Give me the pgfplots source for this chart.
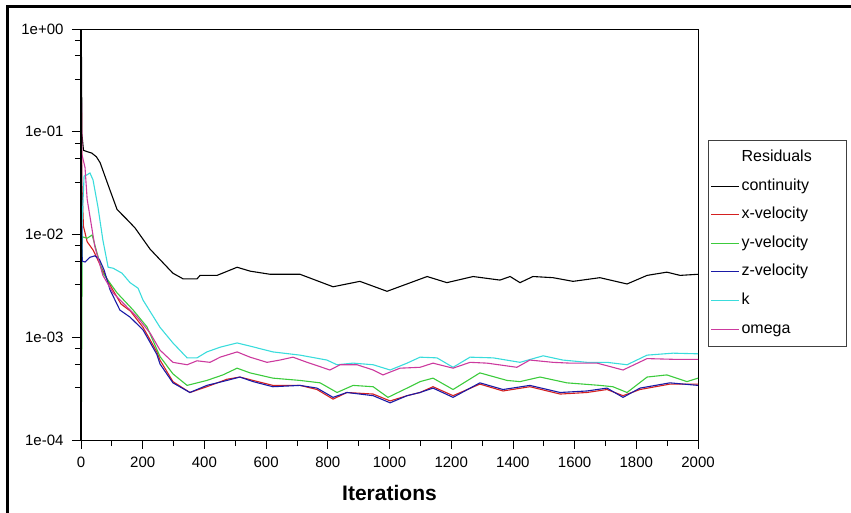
\documentclass[border=0pt]{standalone}
\usepackage{fontspec}
\setmainfont{Liberation Sans}
\usepackage{pgfplots}
\pgfplotsset{compat=1.18}
\usepackage{xcolor}
\definecolor{xvel}{HTML}{D42020}
\definecolor{yvel}{HTML}{3CCB3C}
\definecolor{zvel}{HTML}{1A1AA6}
\definecolor{kcol}{HTML}{3ADCDC}
\definecolor{omcol}{HTML}{CC3A9E}

\begin{document}
\begin{tikzpicture}
  \useasboundingbox (0pt,0pt) rectangle (851pt,513pt);
  \draw[line width=3pt] (7pt,0pt) -- (7pt,506pt) -- (851pt,506pt);
  \begin{axis}[
      at={(81pt,73pt)}, anchor=south west,
      scale only axis, width=617pt, height=411pt,
      xmin=0, xmax=2000, ymode=log, ymin=1e-4, ymax=1,
      xtick={0,200,...,2000}, minor x tick num=1,
      ytick={1e-4,1e-3,1e-2,1e-1,1},
      yticklabels={1e-04,1e-03,1e-02,1e-01,1e+00},
      minor ytick={3.25e-4,5.5e-4,7.75e-4,3.25e-3,5.5e-3,7.75e-3,3.25e-2,5.5e-2,7.75e-2,0.325,0.55,0.775},
      tick align=outside, major tick length=9pt, minor tick length=6pt,
      tick style={black, line width=0.8pt},
      xtick pos=bottom, ytick pos=left,
      axis line style={line width=0.8pt},
      /pgf/number format/assume math mode=true,
      /pgf/number format/1000 sep={},
      ticklabel style={font=\fontsize{15}{18}\selectfont},
      yticklabel style={xshift=-5pt},
      xticklabel style={yshift=-4pt},
      xlabel={\textbf{Iterations}},
      xlabel style={font=\fontsize{21}{24}\selectfont, yshift=-11pt},
      every axis plot/.append style={line width=1.1pt},
      legend image code/.code={\draw[#1, line width=1.1pt] (0pt,0pt) -- (28pt,0pt);},
      legend style={at={(1.0162,0.7299)}, anchor=north west,
        draw=black!75, line width=0.9pt, fill=white,
        inner xsep=2pt, inner ysep=9pt, column sep=2pt, row sep=12.6pt,
        font=\fontsize{16}{18}\selectfont,
        nodes={inner sep=0pt, text height=12pt, text depth=4pt, text width=103pt, align=left}},
    ]
    \addlegendimage{empty legend}
    \addlegendentry{Residuals}
    % continuity
    \addplot[black] coordinates {(1,0.9)(3,0.095)(8,0.066)(20,0.064)(35,0.062)(50,0.057)(62,0.050)(71,0.042)(94,0.027)(117,0.0175)(149,0.0140)(175,0.0116)(201,0.0090)(224,0.0072)(256,0.0057)(298,0.0042)(331,0.0037)(376,0.0037)(386,0.0040)(441,0.0040)(506,0.0048)(548,0.0044)(613,0.0041)(710,0.0041)(817,0.0031)(904,0.0035)(992,0.0028)(1122,0.0039)(1186,0.0034)(1271,0.0039)(1358,0.0036)(1391,0.0039)(1423,0.0034)(1465,0.0039)(1530,0.0038)(1595,0.0035)(1682,0.0038)(1770,0.0033)(1835,0.0040)(1899,0.0043)(1942,0.0040)(2000,0.0041)};
    \addlegendentry{continuity}
    % x-velocity
    \addplot[xvel] coordinates {(1,0.25)(3,0.03)(8,0.012)(20,0.0085)(40,0.0070)(70,0.0045)(100,0.0030)(130,0.0021)(160,0.0018)(201,0.00125)(246,0.00072)(256,0.00060)(298,0.00037)(353,0.00029)(408,0.00033)(473,0.00039)(515,0.00041)(558,0.00038)(622,0.00034)(710,0.00034)(765,0.00031)(817,0.00025)(862,0.00029)(947,0.00028)(1002,0.00024)(1057,0.00027)(1099,0.00029)(1141,0.00033)(1206,0.00027)(1293,0.00035)(1368,0.00030)(1455,0.00033)(1553,0.00028)(1640,0.00029)(1705,0.00031)(1757,0.00027)(1812,0.00031)(1909,0.00035)(2000,0.00035)};
    \addlegendentry{x-velocity}
    % y-velocity
    \addplot[yvel] coordinates {(1,0.00012)(4,0.0095)(20,0.0092)(36,0.0099)(52,0.0066)(71,0.0042)(117,0.0027)(169,0.00184)(214,0.00126)(256,0.00065)(298,0.00044)(344,0.00034)(408,0.00038)(460,0.00043)(506,0.00050)(548,0.00045)(622,0.00040)(710,0.00038)(775,0.00036)(830,0.00029)(882,0.00034)(947,0.00033)(995,0.00026)(1057,0.00032)(1099,0.00037)(1141,0.00040)(1206,0.00031)(1293,0.00045)(1381,0.00038)(1423,0.00037)(1488,0.00041)(1575,0.00036)(1682,0.00034)(1724,0.00033)(1770,0.00029)(1835,0.00041)(1899,0.00043)(1964,0.00037)(2000,0.00040)};
    \addlegendentry{y-velocity}
    % z-velocity
    \addplot[zvel] coordinates {(1,0.07)(4,0.0055)(13,0.0054)(29,0.0060)(45,0.0062)(60,0.0057)(75,0.0045)(94,0.0029)(126,0.00184)(159,0.00157)(201,0.00118)(246,0.00068)(256,0.00055)(298,0.00036)(353,0.00029)(408,0.00034)(473,0.00038)(515,0.00041)(558,0.00037)(622,0.00033)(710,0.00034)(765,0.00032)(817,0.00026)(862,0.00029)(947,0.00027)(1002,0.00023)(1057,0.00027)(1099,0.00029)(1141,0.00032)(1206,0.00026)(1293,0.00036)(1368,0.00031)(1455,0.00034)(1553,0.00029)(1640,0.00030)(1705,0.00032)(1757,0.00026)(1812,0.00032)(1909,0.00036)(2000,0.00034)};
    \addlegendentry{z-velocity}
    % k
    \addplot[kcol] coordinates {(1,0.0029)(3,0.012)(10,0.037)(19,0.038)(29,0.0397)(39,0.034)(55,0.0185)(71,0.0088)(88,0.0048)(104,0.0047)(133,0.0042)(159,0.0034)(185,0.0030)(201,0.0023)(256,0.00125)(298,0.00088)(344,0.00063)(376,0.00063)(408,0.00072)(451,0.00080)(506,0.00088)(548,0.00082)(622,0.00072)(710,0.00067)(797,0.00060)(830,0.00054)(882,0.00056)(947,0.00054)(1002,0.00048)(1057,0.00056)(1099,0.00064)(1154,0.00063)(1206,0.00051)(1261,0.00064)(1336,0.00063)(1423,0.00057)(1498,0.00066)(1562,0.00060)(1640,0.00057)(1705,0.00057)(1770,0.00054)(1835,0.00067)(1919,0.00070)(2000,0.00069)};
    \addlegendentry{k}
    % omega
    \addplot[omcol] coordinates {(1,0.27)(3,0.06)(13,0.045)(20,0.022)(29,0.015)(45,0.0076)(71,0.0040)(104,0.0027)(149,0.00197)(182,0.00157)(224,0.0011)(256,0.00075)(298,0.00057)(344,0.00054)(376,0.00059)(418,0.00057)(451,0.00064)(506,0.00072)(548,0.00064)(603,0.00057)(645,0.00060)(687,0.00064)(733,0.00057)(807,0.00048)(840,0.00054)(895,0.00054)(947,0.00048)(979,0.00043)(1034,0.00050)(1099,0.00051)(1141,0.00056)(1206,0.00050)(1261,0.00057)(1316,0.00056)(1413,0.00051)(1455,0.00060)(1530,0.00057)(1585,0.00056)(1673,0.00056)(1757,0.00048)(1835,0.00062)(1919,0.00061)(2000,0.00061)};
    \addlegendentry{omega}
  \end{axis}
  \draw[line width=1.8pt] (81pt,73pt) -- (81pt,484pt);
\end{tikzpicture}
\end{document}
